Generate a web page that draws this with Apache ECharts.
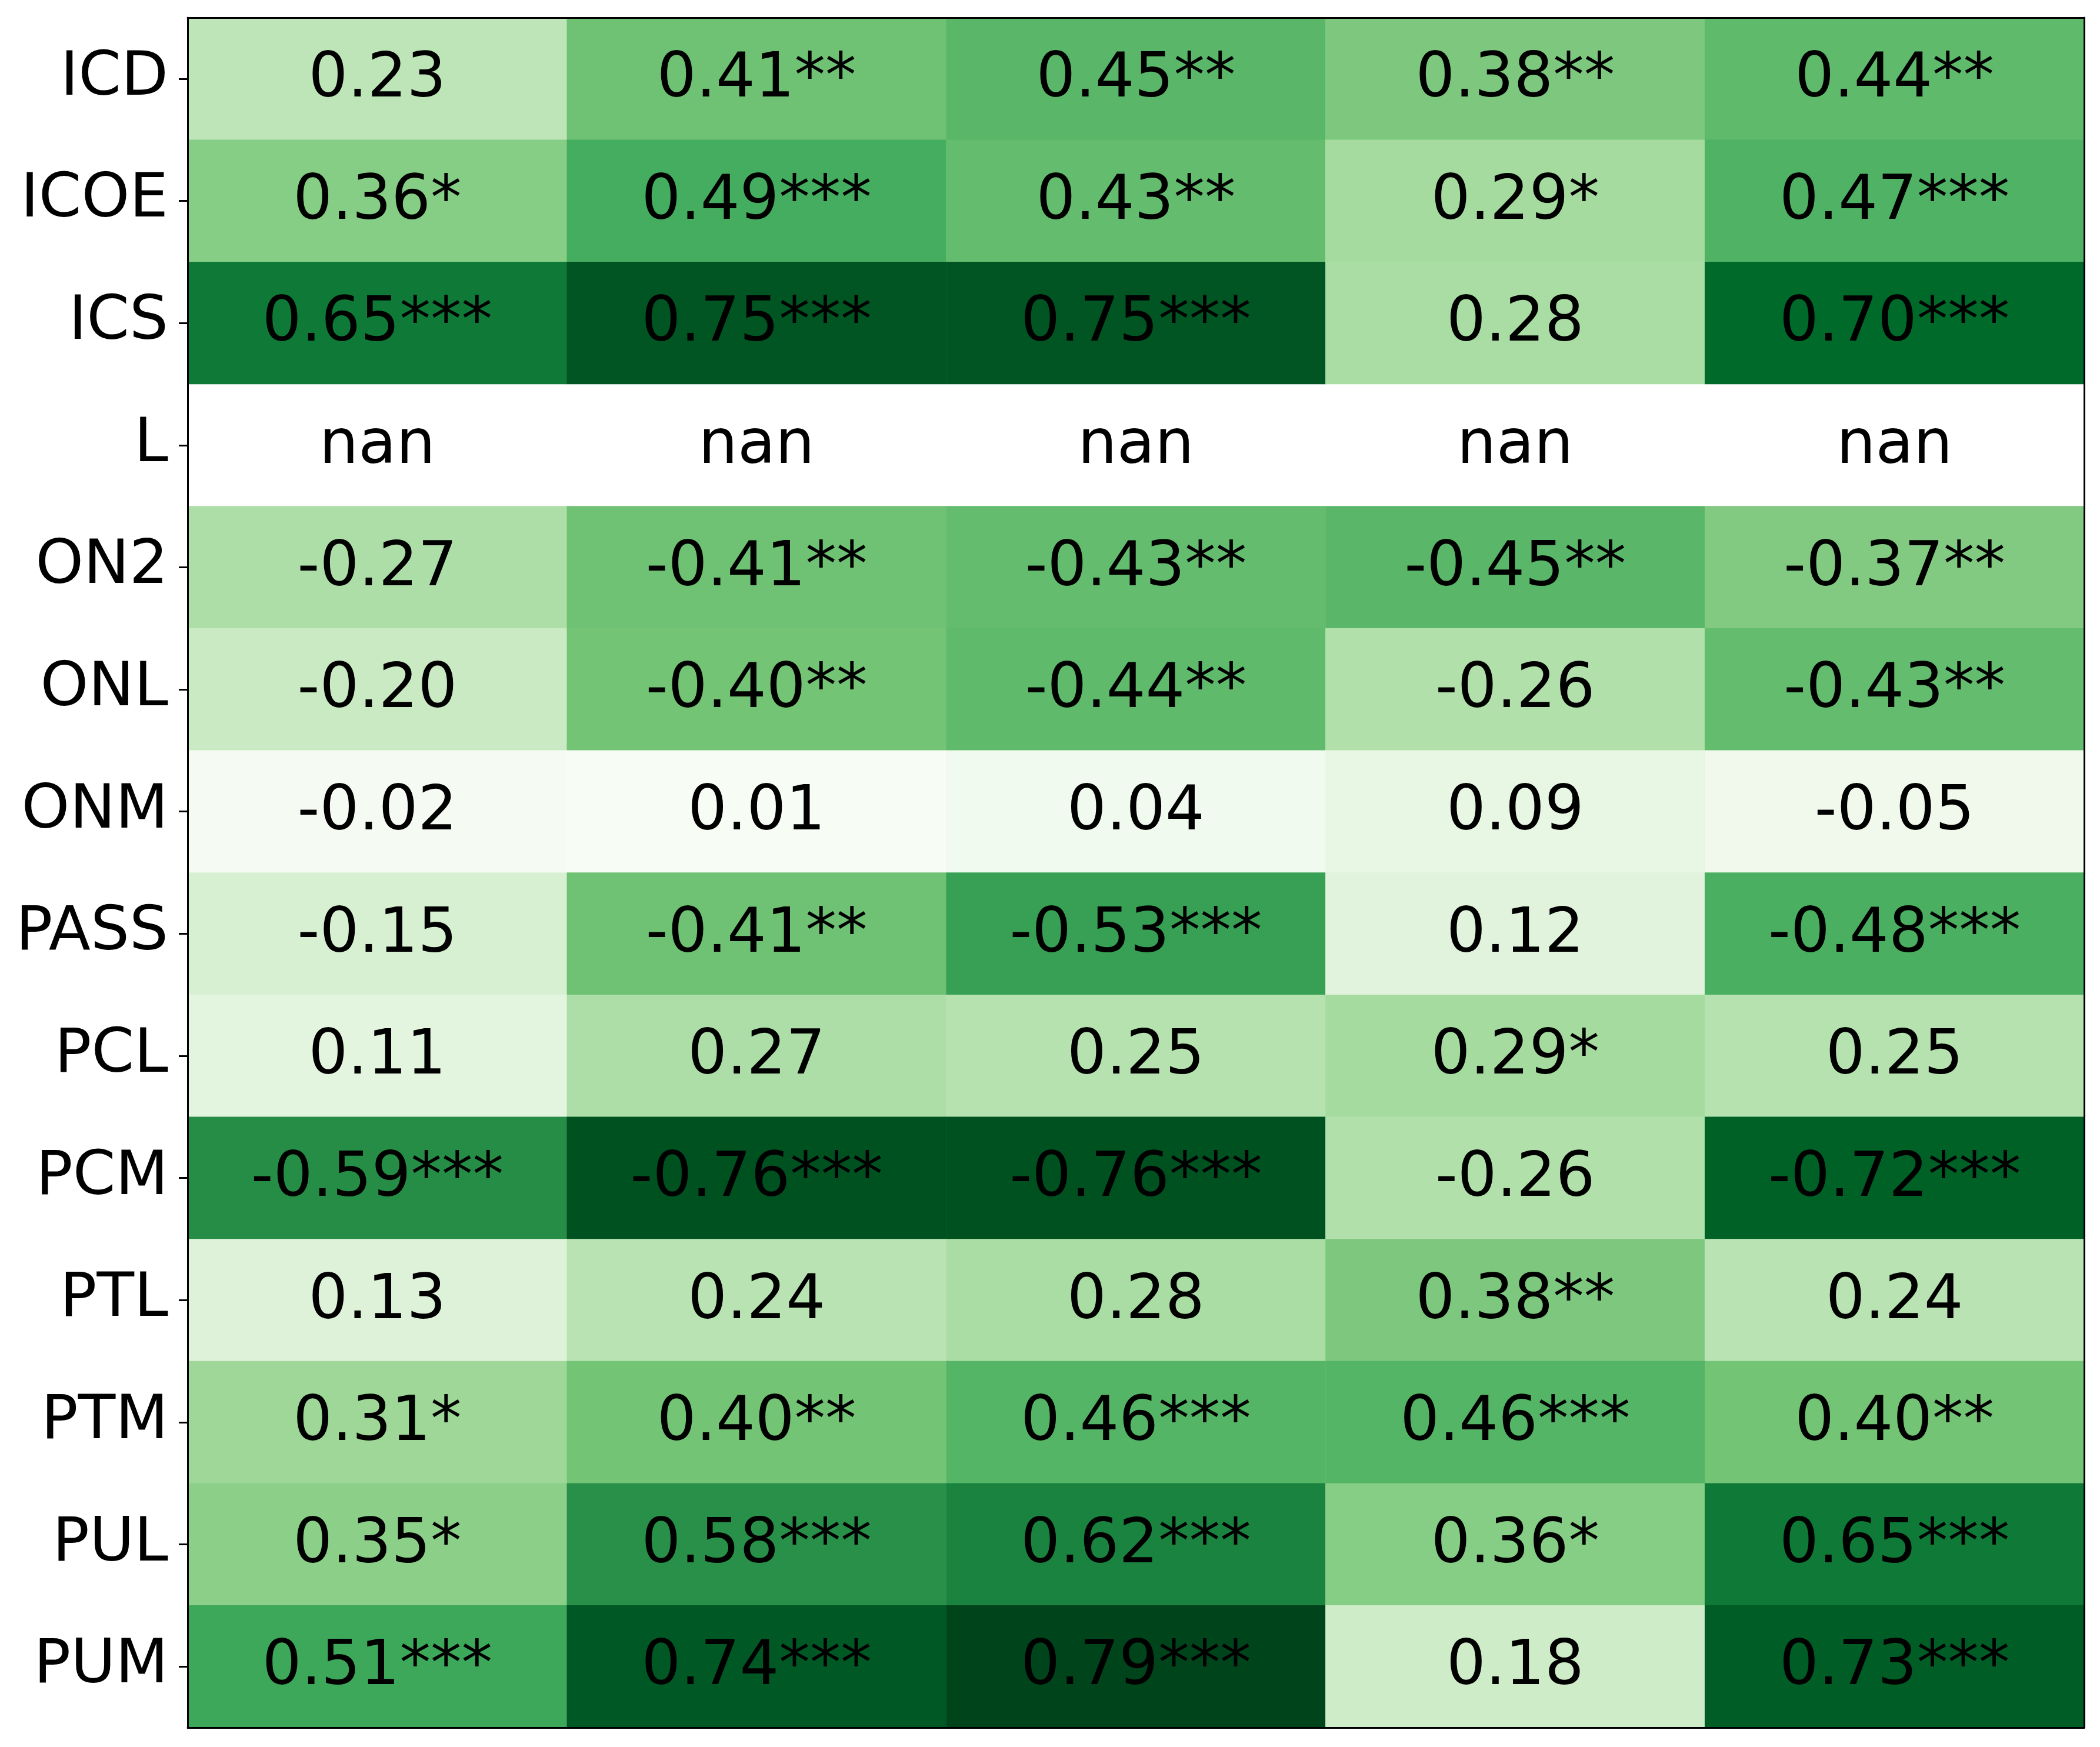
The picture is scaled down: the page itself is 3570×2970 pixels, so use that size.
<!DOCTYPE html>
<html>
<head>
<meta charset="utf-8">
<script src="https://cdn.jsdelivr.net/npm/echarts@6/dist/echarts.min.js"></script>
<style>html,body{margin:0;padding:0;background:#fff}#c{width:3570px;height:2970px}</style>
</head>
<body>
<div id="c"></div>
<script>
const rows = ['ICD','ICOE','ICS','L','ON2','ONL','ONM','PASS','PCL','PCM','PTL','PTM','PUL','PUM'];
const cols = ['c1','c2','c3','c4','c5'];
const values = [
  [0.23, 0.41, 0.45, 0.38, 0.44],
  [0.36, 0.49, 0.43, 0.29, 0.47],
  [0.65, 0.75, 0.75, 0.28, 0.70],
  [null, null, null, null, null],
  [-0.27, -0.41, -0.43, -0.45, -0.37],
  [-0.20, -0.40, -0.44, -0.26, -0.43],
  [-0.02, 0.01, 0.04, 0.09, -0.05],
  [-0.15, -0.41, -0.53, 0.12, -0.48],
  [0.11, 0.27, 0.25, 0.29, 0.25],
  [-0.59, -0.76, -0.76, -0.26, -0.72],
  [0.13, 0.24, 0.28, 0.38, 0.24],
  [0.31, 0.40, 0.46, 0.46, 0.40],
  [0.35, 0.58, 0.62, 0.36, 0.65],
  [0.51, 0.74, 0.79, 0.18, 0.73]
];
const stars = [
  ['', '**', '**', '**', '**'],
  ['*', '***', '**', '*', '***'],
  ['***', '***', '***', '', '***'],
  ['', '', '', '', ''],
  ['', '**', '**', '**', '**'],
  ['', '**', '**', '', '**'],
  ['', '', '', '', ''],
  ['', '**', '***', '', '***'],
  ['', '', '', '*', ''],
  ['***', '***', '***', '', '***'],
  ['', '', '', '**', ''],
  ['*', '**', '***', '***', '**'],
  ['*', '***', '***', '*', '***'],
  ['***', '***', '***', '', '***']
];
const greens = ['#f7fcf5','#e5f5e0','#c7e9c0','#a1d99b','#74c476','#41ab5d','#238b45','#006d2c','#00441b'];

const heatData = [];
const labelData = [];
rows.forEach((r, i) => {
  cols.forEach((c, j) => {
    const v = values[i][j];
    if (v !== null) heatData.push([j, i, Math.abs(v), v]);
    const txt = v === null ? 'nan' : v.toFixed(2) + stars[i][j];
    labelData.push({value: [j, i], txt: txt});
  });
});

const FONT = 'DejaVu Sans';
const lineStyle = {color: '#000', width: 3};
const chart = echarts.init(document.getElementById('c'), null, {renderer: 'canvas'});
chart.setOption({
  animation: false,
  backgroundColor: '#ffffff',
  grid: {left: 319, top: 30, width: 3224, height: 2907, show: false},
  xAxis: [
    {type: 'category', data: cols, position: 'bottom', z: 10,
     axisLine: {show: true, lineStyle: lineStyle}, axisTick: {show: false}, axisLabel: {show: false}, splitLine: {show: false}},
    {type: 'category', data: cols, position: 'top', z: 10,
     axisLine: {show: true, lineStyle: lineStyle}, axisTick: {show: false}, axisLabel: {show: false}, splitLine: {show: false}}
  ],
  yAxis: [
    {type: 'category', data: rows, inverse: true, position: 'left', z: 10,
     axisLine: {show: true, lineStyle: lineStyle},
     axisTick: {show: true, inside: false, length: 15, lineStyle: lineStyle, alignWithLabel: true},
     axisLabel: {fontFamily: FONT, fontSize: 104, color: '#000', margin: 33, padding: [32, 0, 0, 0]},
     splitLine: {show: false}},
    {type: 'category', data: rows, inverse: true, position: 'right', z: 10,
     axisLine: {show: true, lineStyle: lineStyle}, axisTick: {show: false}, axisLabel: {show: false}, splitLine: {show: false}}
  ],
  visualMap: {
    show: false, type: 'continuous', seriesIndex: 0, dimension: 2,
    min: 0.01, max: 0.79, inRange: {color: greens}
  },
  series: [
    {
      type: 'heatmap', xAxisIndex: 0, yAxisIndex: 0, data: heatData,
      itemStyle: {borderWidth: 0}, label: {show: false}, z: 1
    },
    {
      type: 'scatter', xAxisIndex: 0, yAxisIndex: 0, data: labelData, symbolSize: 0, silent: true, z: 5,
      itemStyle: {opacity: 1},
      label: {
        show: true, position: 'inside', fontFamily: FONT, fontSize: 105, color: '#000', opacity: 1,
        offset: [0, 3],
        formatter: p => p.data.txt
      }
    }
  ]
});
</script>
</body>
</html>
